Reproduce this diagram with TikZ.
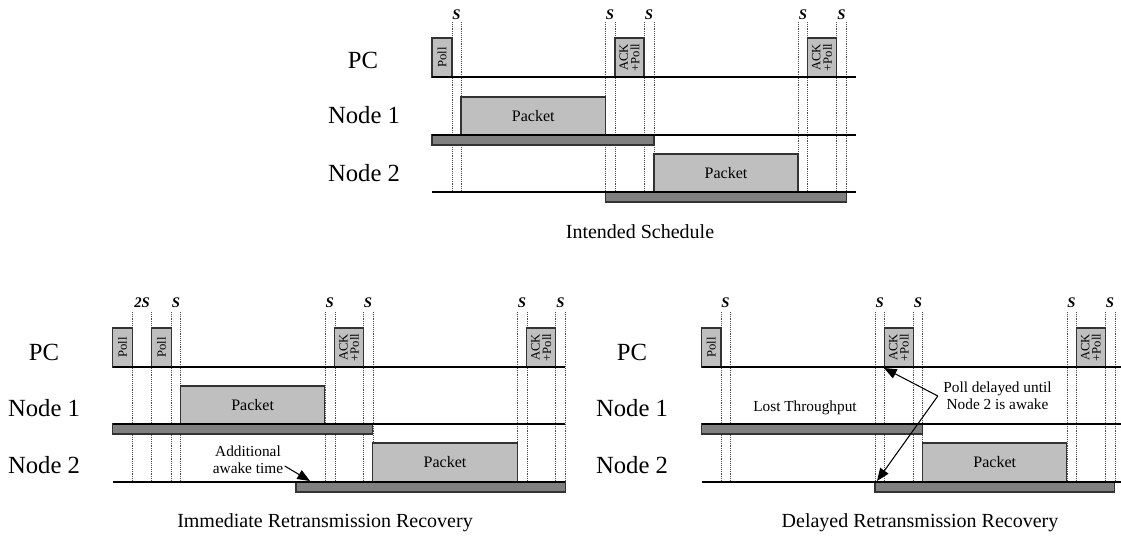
\documentclass[tikz,border=0pt]{standalone}
\usepackage{fontspec}
\setmainfont{Liberation Serif}
\usetikzlibrary{arrows.meta}
\begin{document}
\begin{tikzpicture}[x=0.75pt,y=-0.75pt,
    rowlabel/.style={font=\fontsize{18.5}{20}\selectfont},
    caption/.style={font=\fontsize{15}{17}\selectfont},
    note/.style={font=\fontsize{11.5}{13}\selectfont, align=center, inner sep=1pt},
    slabel/.style={font=\fontsize{11}{12}\selectfont\bfseries\itshape, inner sep=0pt},
    sline/.style={densely dotted, line width=0.4pt, black!70},
    msgbox/.style={draw=black!80, fill=black!25, line width=0.8pt},
    awakebar/.style={draw=black!80, fill=black!50, line width=0.8pt},
    timeline/.style={line width=1pt},
    boxtext/.style={font=\fontsize{9.5}{8.5}\selectfont, rotate=90, align=center, inner sep=0pt},
    pkttext/.style={font=\fontsize{12}{14}\selectfont},
    callout/.style={-{Triangle[length=9.5pt,width=7.5pt]}, line width=0.8pt}
]
\useasboundingbox (0,0) rectangle (1121,540);

%%% intended schedule (top)
\foreach \x in {452,461,605.5,615,644,654,798,807.5,836.5,846.5}
    \draw[sline] (\x,22) -- (\x,192); % guard times
\foreach \x/\s [count=\i] in {456.5/S,610/S,649/S,803/S,841.5/S}
    \node[slabel] (ts\i) at (\x,15) {\s};
\draw[awakebar] (432,135) rectangle (654,145); % node 1 awake
\draw[awakebar] (605.5,192) rectangle (846.5,202); % node 2 awake
\draw[msgbox] (432,38) rectangle (452,77) node[midway,boxtext] (tpoll) {Poll};
\draw[msgbox] (615,38) rectangle (644,77) node[midway,boxtext] (tack1) {ACK\\+Poll};
\draw[msgbox] (807.5,38) rectangle (836.5,77) node[midway,boxtext] (tack2) {ACK\\+Poll};
\draw[msgbox] (461,97) rectangle (605.5,135) node[midway,pkttext] (tpkt1) {Packet};
\draw[msgbox] (654,154) rectangle (798,192) node[midway,pkttext] (tpkt2) {Packet};
\foreach \y in {77,135,192}
    \draw[timeline] (432,\y) -- (856,\y);
\node[rowlabel] (tpc) at (363,60) {PC};
\node[rowlabel] (tn1) at (364,115) {Node 1};
\node[rowlabel] (tn2) at (364,173) {Node 2};
\node[caption] (tcap) at (640,232) {Intended Schedule};

%%% immediate retransmission (bottom left)
\foreach \x in {132.4,151.7,171.3,180.5,324.8,334.8,363.3,372.9,517.2,526.8,555.7,565.3}
    \draw[sline] (\x,312) -- (\x,482);
\foreach \x/\s [count=\i] in {142/2S,176/S,329.8/S,368/S,522/S,560.5/S}
    \node[slabel] (ls\i) at (\x,303) {\s};
\draw[awakebar] (112.8,424) rectangle (372.9,434);
\draw[awakebar] (296,482) rectangle (565.3,492);
\draw[msgbox] (112.8,328) rectangle (132.4,367) node[midway,boxtext] (lpoll1) {Poll};
\draw[msgbox] (151.7,328) rectangle (171.3,367) node[midway,boxtext] (lpoll2) {Poll};
\draw[msgbox] (334.8,328) rectangle (363.3,367) node[midway,boxtext] (lack1) {ACK\\+Poll};
\draw[msgbox] (526.8,328) rectangle (555.7,367) node[midway,boxtext] (lack2) {ACK\\+Poll};
\draw[msgbox] (180.5,386) rectangle (324.8,424) node[midway,pkttext] (lpkt1) {Packet};
\draw[msgbox] (372.9,443) rectangle (517.2,482) node[midway,pkttext] (lpkt2) {Packet};
\foreach \y in {367,424,482}
    \draw[timeline] (112.8,\y) -- (565.3,\y);
\node[rowlabel] (lpc) at (44,352) {PC};
\node[rowlabel] (ln1) at (44,408) {Node 1};
\node[rowlabel] (ln2) at (44,465) {Node 2};
\node[note] (lnote) at (248,460) {Additional\\awake time};
\coordinate (ltip) at (310,481);
\draw[callout] ([yshift=-4.5pt]lnote.east) -- (ltip); % extra awake time
\node[caption] (lcap) at (325,523) {Immediate Retransmission Recovery};

%%% delayed retransmission (bottom right)
\foreach \x in {721,730,875,884.3,913.3,922.6,1066.9,1076.2,1105.5,1114.8}
    \draw[sline] (\x,312) -- (\x,482);
\foreach \x/\s [count=\i] in {725.5/S,879.6/S,918/S,1071.5/S,1110/S}
    \node[slabel] (rs\i) at (\x,303) {\s};
\draw[awakebar] (701.5,424) rectangle (922.6,434);
\draw[awakebar] (875,482) rectangle (1114.8,492);
\draw[msgbox] (701.5,328) rectangle (721,367) node[midway,boxtext] (rpoll) {Poll};
\draw[msgbox] (884.3,328) rectangle (913.3,367) node[midway,boxtext] (rack1) {ACK\\+Poll};
\draw[msgbox] (1076.2,328) rectangle (1105.5,367) node[midway,boxtext] (rack2) {ACK\\+Poll};
\draw[msgbox] (922.6,443) rectangle (1066.9,482) node[midway,pkttext] (rpkt) {Packet};
\foreach \y in {367,424,482}
    \draw[timeline] (701.5,\y) -- (1121,\y);
\node[rowlabel] (rpc) at (632,352) {PC};
\node[rowlabel] (rn1) at (632,408) {Node 1};
\node[rowlabel] (rn2) at (632,465) {Node 2};
\node[note] (rlost) at (805,408) {Lost Throughput};
\node[note] (rnote) at (997.5,396) {Poll delayed until\\Node 2 is awake};
\coordinate (rv) at ([xshift=-3pt]rnote.west);
\coordinate (rtip1) at (884,368);
\coordinate (rtip2) at (877,481);
\draw[callout] (rv) -- (rtip1); % up to delayed poll
\draw[callout] (rv) -- (rtip2); % down to node 2 wake up
\node[caption] (rcap) at (920,523) {Delayed Retransmission Recovery};
\end{tikzpicture}
\end{document}
